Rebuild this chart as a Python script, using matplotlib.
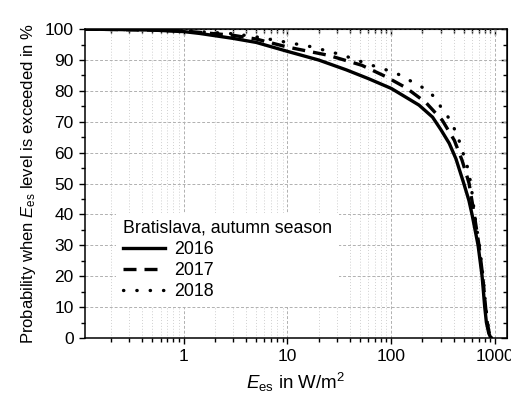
import numpy as np
import matplotlib
matplotlib.use("Agg")
import matplotlib.pyplot as plt
from matplotlib.ticker import LogLocator, NullFormatter, MultipleLocator

plt.rcParams['font.family'] = ['Liberation Sans', 'DejaVu Sans']
plt.rcParams['mathtext.fontset'] = 'custom'
plt.rcParams['mathtext.rm'] = 'Liberation Sans'
plt.rcParams['mathtext.it'] = 'Liberation Sans:italic'

# values
x_2016 = [0.11, 0.2, 0.5, 1, 1.43, 3, 5, 10, 20, 37, 60, 100, 185, 250, 300, 362, 420, 500, 560, 600, 686, 750, 795, 825, 870, 910]
y_2016 = [100, 99.9, 99.7, 99.2, 98.6, 97, 95.7, 92.8, 90, 86.8, 84, 80.8, 75.4, 71.5, 67.5, 63, 58, 50, 44.5, 40, 30, 20, 10, 5, 1.5, 0]

x_2017 = [0.11, 0.2, 0.5, 1, 3, 5, 10, 25, 52, 89, 139, 216, 310, 405, 480, 540, 562, 630, 700, 760, 810, 840, 880, 920]
y_2017 = [100, 99.9, 99.7, 99.4, 98, 96.8, 94.2, 91.5, 88.3, 84.6, 81, 76.2, 70.5, 64, 57.6, 52, 50, 40, 30, 20, 10, 5, 1.5, 0]

x_2018 = [0.11, 0.2, 0.5, 1, 3, 5, 10, 17, 34, 61, 111, 198, 250, 362, 430, 480, 540, 585, 635, 705, 765, 815, 845, 885, 925]
y_2018 = [100, 99.9, 99.8, 99.5, 98.5, 97.5, 95.7, 94.3, 91.6, 88.6, 85.8, 81.2, 78.6, 71, 66, 61, 55.5, 50, 40, 30, 20, 10, 5, 1.5, 0]

years = ['2016', '2017', '2018']

fig = plt.figure(figsize=(5.11, 3.99), dpi=100)
ax = fig.add_axes([0.166, 0.153, 0.826, 0.774])

lw = 2.4
ax.plot(x_2016, y_2016, color='black', lw=lw, label=years[0])
ax.plot(x_2017, y_2017, color='black', lw=lw, dashes=(3.9, 2.4), label=years[1])
ax.plot(x_2018, y_2018, color='black', lw=lw, dashes=(0.1, 3.9), dash_capstyle='round', label=years[2])

ax.set_xscale('log')
ax.set_xlim(0.112, 1300)
ax.set_ylim(0, 100)
ax.xaxis.set_minor_locator(LogLocator(base=10, subs=np.arange(2, 10), numticks=20))
ax.xaxis.set_minor_formatter(NullFormatter())
ax.set_xticks([1, 10, 100, 1000])
ax.set_xticklabels(['1', '10', '100', '1000'])
ax.yaxis.set_major_locator(MultipleLocator(10))
ax.yaxis.set_minor_locator(MultipleLocator(5))

ax.grid(True, which='major', color='#b0b0b0', linestyle=(0, (3, 2)), lw=0.7)
ax.grid(True, which='minor', axis='x', color='#d0d0d0', linestyle=(0, (1, 2)), lw=0.7)
ax.set_axisbelow(True)

ax.tick_params(which='both', direction='out', top=False, right=False, labelsize=12.5, width=1)
ax.tick_params(which='major', length=4.5)
ax.tick_params(which='minor', length=3)
for s in ax.spines.values():
    s.set_linewidth(1.1)

# mirrored ticks pointing inward on top and right
ax2 = ax.secondary_xaxis('top')
ax2.xaxis.set_major_locator(LogLocator(base=10, numticks=10))
ax2.xaxis.set_minor_locator(LogLocator(base=10, subs=np.arange(2, 10), numticks=20))
ax2.tick_params(which='both', direction='in', labeltop=False, width=1)
ax2.tick_params(which='major', length=4.5)
ax2.tick_params(which='minor', length=3)
ax2.xaxis.set_minor_formatter(NullFormatter())
ay2 = ax.secondary_yaxis('right')
ay2.yaxis.set_major_locator(MultipleLocator(10))
ay2.yaxis.set_minor_locator(MultipleLocator(5))
ay2.tick_params(which='both', direction='in', labelright=False, width=1)
ay2.tick_params(which='major', length=4.5)
ay2.tick_params(which='minor', length=3)

ax.set_xlabel(r'$\mathit{E}_{\mathrm{es}}$ in W/m$^2$', fontsize=13.5, labelpad=5)
ax.set_ylabel(r'Probability when $\mathit{E}_{\mathrm{es}}$ level is exceeded in %', fontsize=12, labelpad=5)

leg = ax.legend(title='Bratislava, autumn season', loc='upper left',
                bbox_to_anchor=(0.073, 0.405), fontsize=12.8, title_fontsize=12.8,
                frameon=True, fancybox=False, edgecolor='none', facecolor='white',
                framealpha=1, handlelength=2.4, handletextpad=0.5,
                labelspacing=0.22, borderpad=0.4, borderaxespad=0, alignment='left')

fig.savefig('out.png', dpi=100)
